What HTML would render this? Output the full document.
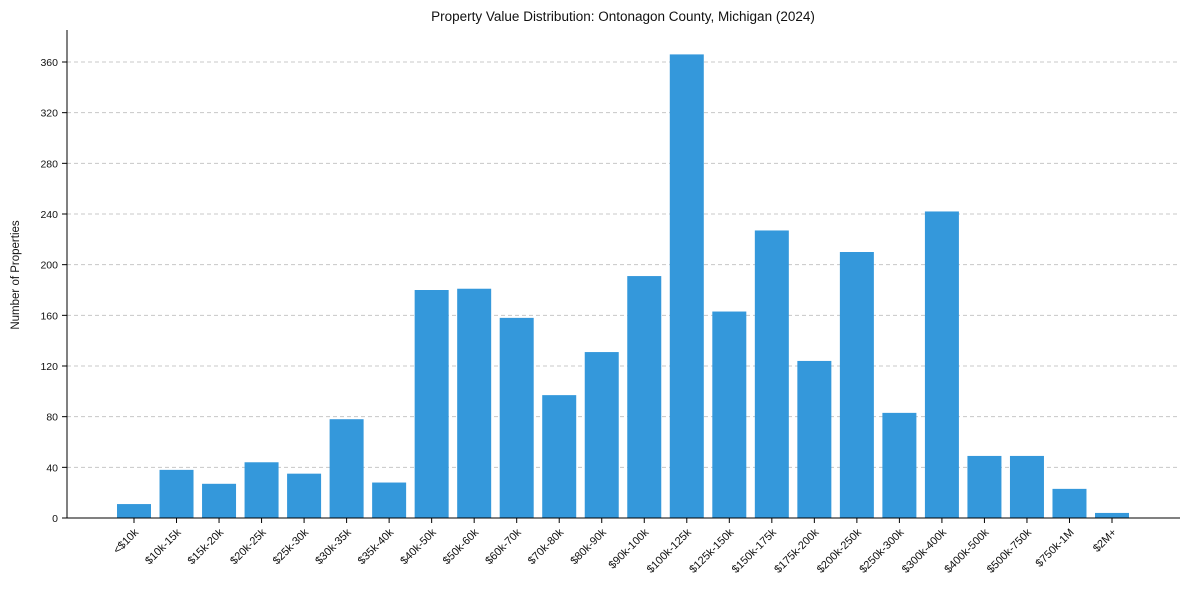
<!DOCTYPE html>
<html><head><meta charset="utf-8"><style>
body{margin:0;background:#fff;}
svg{display:block;font-family:"Liberation Sans",sans-serif;}
</style></head><body>
<svg id="chart" width="1189" height="590" xmlns="http://www.w3.org/2000/svg">
<text x="623" y="21" text-anchor="middle" font-size="13.5" fill="#111">Property Value Distribution: Ontonagon County, Michigan (2024)</text>
<text transform="translate(19,275) rotate(-90)" text-anchor="middle" font-size="11.5" fill="#111">Number of Properties</text>
<g id="grid"></g><g id="bars"></g><g id="axes"></g>
</svg>
<script>
const categories=["<$10k","$10k-15k","$15k-20k","$20k-25k","$25k-30k","$30k-35k","$35k-40k","$40k-50k","$50k-60k","$60k-70k","$70k-80k","$80k-90k","$90k-100k","$100k-125k","$125k-150k","$150k-175k","$175k-200k","$200k-250k","$250k-300k","$300k-400k","$400k-500k","$500k-750k","$750k-1M","$2M+"];
const values=[11,38,27,44,35,78,28,180,181,158,97,131,191,366,163,227,124,210,83,242,49,49,23,4];
const yTicks=[0,40,80,120,160,200,240,280,320,360];
const NS="http://www.w3.org/2000/svg";
const y0=518,pxPer=456/360,x0=134,step=(1112-134)/23,bw=34;
const yS=v=>y0-v*pxPer, xS=i=>x0+i*step;
function mk(t,a,p){const e=document.createElementNS(NS,t);for(const k in a)e.setAttribute(k,a[k]);p.appendChild(e);return e;}
const grid=document.getElementById('grid'),bars=document.getElementById('bars'),axes=document.getElementById('axes');
yTicks.forEach(v=>{
 if(v>0){const g=mk('line',{x1:67,x2:1180,y1:yS(v),y2:yS(v),stroke:'#c8c8c8','stroke-dasharray':'4,3','stroke-width':1},grid);
 
 }
 mk('line',{x1:62,x2:67,y1:yS(v),y2:yS(v),stroke:'#000'},axes);
 const t=mk('text',{x:58,y:yS(v)+4,'text-anchor':'end','font-size':10.5,fill:'#111'},axes);
 t.textContent=v;
 
 
});
values.forEach((v,i)=>{
 const r=mk('rect',{x:xS(i)-bw/2,y:yS(v),width:bw,height:v*pxPer,fill:'#3498db'},bars);
 
 
 mk('line',{x1:xS(i),x2:xS(i),y1:y0,y2:y0+5,stroke:'#000'},axes);
 const t=mk('text',{x:xS(i)+5,y:y0+15,'text-anchor':'end','font-size':11,fill:'#111',transform:`rotate(-45 ${xS(i)+5} ${y0+15})`},axes);
 t.textContent=categories[i];
 
 
});
const ya=mk('line',{x1:67,x2:67,y1:30,y2:y0,stroke:'#000'},axes);


const xa=mk('line',{x1:67,x2:1180,y1:y0,y2:y0,stroke:'#000'},axes);


</script>
</body></html>
